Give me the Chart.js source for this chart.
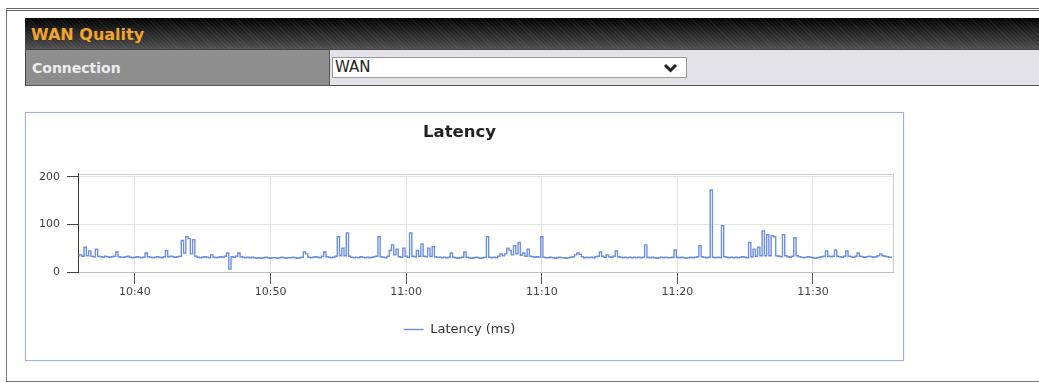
<!DOCTYPE html>
<html>
<head>
<meta charset="utf-8">
<title>WAN Quality</title>
<script src="https://cdn.jsdelivr.net/npm/chart.js@4.4.1/dist/chart.umd.min.js"></script>
<style>
  html, body { margin: 0; padding: 0; background: #fff; overflow: hidden; }
  body { position: relative; width: 1039px; height: 383px; font-family: "DejaVu Sans", Verdana, sans-serif; }
  .frame { position: absolute; left: 6px; top: 8px; width: 1100px; height: 370px;
           border-left: 1px solid #777; border-top: 3px double #666; border-bottom: 1px solid #777; }
  .bar { position: absolute; left: 25px; top: 18px; width: 1014px; height: 31px; line-height: 34px;
         padding-left: 6px; box-sizing: border-box; color: #f2a52a; font-weight: bold; font-size: 16px;
         background:
           repeating-linear-gradient(45deg, rgba(255,255,255,0.05) 0 1px, transparent 1px 3px),
           linear-gradient(to bottom, #020202 0%, #1e1e1e 35%, #3a3a3a 75%, #505050 100%); }
  .row { position: absolute; left: 25px; top: 49px; width: 1014px; height: 37px; box-sizing: border-box;
         background: #e4e2e9; border-top: 1px solid #444; border-bottom: 1px solid #555; }
  .label { position: absolute; left: 0; top: 0; width: 305px; height: 35px; box-sizing: border-box;
           background: #8e8e8e; border-left: 1px solid #444; border-right: 1px solid #555;
           color: #ededed; font-weight: bold; font-size: 14px; line-height: 36px; padding-left: 6px; }
  .select { position: absolute; left: 332px; top: 57px; width: 355px; height: 21px; box-sizing: border-box;
            background: #fff; border: 1px solid #9a9a9a; font-size: 15px; line-height: 19px; padding-left: 2px; color: #222; }
  .select svg { position: absolute; right: 8px; top: 5px; }
  .panel { position: absolute; left: 25px; top: 112px; width: 879px; height: 249px; box-sizing: border-box;
           border: 1px solid #9db1e0; box-shadow: 0 0 1px #c8d4f0; background: #fff; }
  .chart-box { position: absolute; left: 0; top: 0; width: 876px; height: 246px; }
</style>
</head>
<body>
<div class="frame"></div>
<div class="bar">WAN Quality</div>
<div class="row"><div class="label">Connection</div></div>
<div class="select">WAN
  <svg width="15" height="10" viewBox="0 0 15 10"><polyline points="2,2 7.5,7.5 13,2" fill="none" stroke="#222" stroke-width="3"/></svg>
</div>
<div class="panel"><div class="chart-box"><canvas id="latencyChart"></canvas></div></div>

<script>
// sampling: one reading every 10 s starting at 10:35:50
const startMinutes = 10 * 60 + 35 + 50 / 60;
const stepSeconds = 10;
const axisMin = 10 * 60 + 35.8;
const axisMax = 11 * 60 + 35.9;

const timeTicks = ['10:40', '10:50', '11:00', '11:10', '11:20', '11:30'];
const latencyTicks = [0, 100, 200];

// latency in ms
const latencyMs = [
  34, 36, 33, 52, 34, 44, 33, 32, 48, 33, 32, 31, 33, 32, 31, 32, 33, 42, 32, 31,
  31, 32, 33, 31, 30, 31, 32, 31, 30, 31, 40, 32, 31, 30, 31, 32, 31, 30, 32, 45,
  32, 33, 32, 31, 32, 33, 66, 40, 74, 70, 38, 68, 33, 31, 30, 31, 32, 31, 30, 36,
  31, 30, 31, 32, 31, 33, 40, 6, 32, 31, 33, 40, 32, 31, 30, 31, 30, 31, 30, 29,
  30, 29, 30, 31, 30, 29, 30, 30, 29, 30, 31, 30, 29, 30, 30, 31, 30, 29, 30, 31,
  42, 38, 31, 30, 31, 32, 31, 30, 33, 42, 32, 31, 30, 31, 33, 74, 34, 50, 34, 82,
  33, 31, 30, 31, 30, 32, 31, 30, 31, 30, 31, 32, 33, 74, 32, 31, 30, 33, 45, 57,
  36, 48, 32, 31, 50, 33, 31, 82, 33, 32, 45, 33, 59, 33, 32, 50, 33, 53, 32, 31,
  31, 30, 31, 30, 31, 40, 31, 30, 29, 30, 31, 42, 31, 30, 29, 30, 31, 30, 29, 30,
  31, 74, 31, 30, 31, 30, 33, 38, 34, 38, 50, 45, 36, 55, 38, 62, 35, 40, 33, 48,
  33, 32, 31, 32, 31, 74, 31, 30, 30, 31, 30, 29, 30, 31, 30, 30, 29, 30, 31, 32,
  36, 40, 37, 32, 30, 31, 30, 31, 30, 32, 33, 42, 33, 31, 36, 32, 31, 33, 44, 32,
  31, 30, 31, 30, 31, 30, 31, 30, 31, 30, 31, 57, 31, 30, 31, 30, 29, 30, 31, 30,
  31, 30, 30, 31, 46, 31, 30, 31, 30, 29, 30, 31, 30, 31, 32, 55, 32, 31, 30, 31,
  172, 31, 30, 31, 30, 97, 32, 31, 30, 31, 30, 31, 30, 31, 32, 31, 30, 62, 32, 48,
  33, 52, 34, 86, 34, 78, 34, 76, 74, 34, 33, 32, 78, 34, 32, 31, 33, 72, 34, 32,
  31, 30, 31, 32, 31, 30, 29, 30, 31, 32, 33, 44, 33, 32, 33, 46, 33, 32, 31, 33,
  44, 33, 32, 31, 33, 40, 33, 32, 31, 32, 33, 32, 31, 32, 34, 38, 34, 33, 32, 31,
  31
];

const toMinutes = (hhmm) => {
  const [h, m] = hhmm.split(':').map(Number);
  return h * 60 + m;
};
const toLabel = (v) => {
  const h = Math.floor(v / 60);
  const m = Math.round(v - h * 60);
  return h + ':' + String(m).padStart(2, '0');
};

const points = latencyMs.map((v, i) => ({ x: startMinutes + i * stepSeconds / 60, y: v }));

const lineBlue = '#6d8fe0';
const fontFamily = '"DejaVu Sans", Verdana, sans-serif';

// light frame round the plot area
const plotFrame = {
  id: 'plotFrame',
  beforeDraw(chart) {
    const { ctx, chartArea: a } = chart;
    ctx.save();
    ctx.strokeStyle = '#cacaca';
    ctx.lineWidth = 1;
    ctx.strokeRect(Math.round(a.left) + 0.5, Math.round(a.top) + 0.5, Math.round(a.right - a.left), Math.round(a.bottom - a.top));
    ctx.restore();
  }
};

const ctx = document.getElementById('latencyChart').getContext('2d');
const latencyChart = new Chart(ctx, {
  type: 'line',
  data: {
    datasets: [{
      label: 'Latency (ms)',
      data: points,
      borderColor: lineBlue,
      backgroundColor: lineBlue,
      borderWidth: 1.4,
      pointRadius: 0,
      stepped: 'middle',
      fill: false
    }]
  },
  options: {
    responsive: true,
    maintainAspectRatio: false,
    animation: false,
    layout: { padding: { left: 0, right: 9, top: 0, bottom: 13 } },
    plugins: {
      title: {
        display: true,
        text: 'Latency',
        color: '#222',
        font: { family: fontFamily, size: 16.5, weight: 'bold' },
        padding: { top: 10, bottom: 31 }
      },
      legend: {
        position: 'bottom',
        labels: {
          usePointStyle: true,
          pointStyle: 'line',
          pointStyleWidth: 20,
          color: '#333',
          font: { family: fontFamily, size: 13 }
        }
      },
      tooltip: { enabled: false }
    },
    scales: {
      x: {
        type: 'linear',
        min: axisMin,
        max: axisMax,
        afterBuildTicks: (s) => { s.ticks = timeTicks.map(t => ({ value: toMinutes(t) })); },
        afterFit: (s) => { s.height = 41; },
        ticks: {
          callback: (v) => toLabel(v),
          color: '#444',
          padding: 2,
          maxRotation: 0,
          autoSkip: false,
          font: { family: fontFamily, size: 11 }
        },
        grid: { color: '#e3e3e3', tickColor: '#555', tickLength: 12 },
        border: { color: '#bdbdbd' }
      },
      y: {
        min: 0,
        max: 206,
        afterBuildTicks: (s) => { s.ticks = latencyTicks.map(v => ({ value: v })); },
        afterFit: (s) => { s.width = 52; },
        ticks: {
          color: '#444',
          padding: 7,
          font: { family: fontFamily, size: 11 }
        },
        grid: { color: '#e3e3e3', tickColor: '#444', tickLength: 11 },
        border: { color: '#333' }
      }
    }
  },
  plugins: [plotFrame]
});
</script>
</body>
</html>
